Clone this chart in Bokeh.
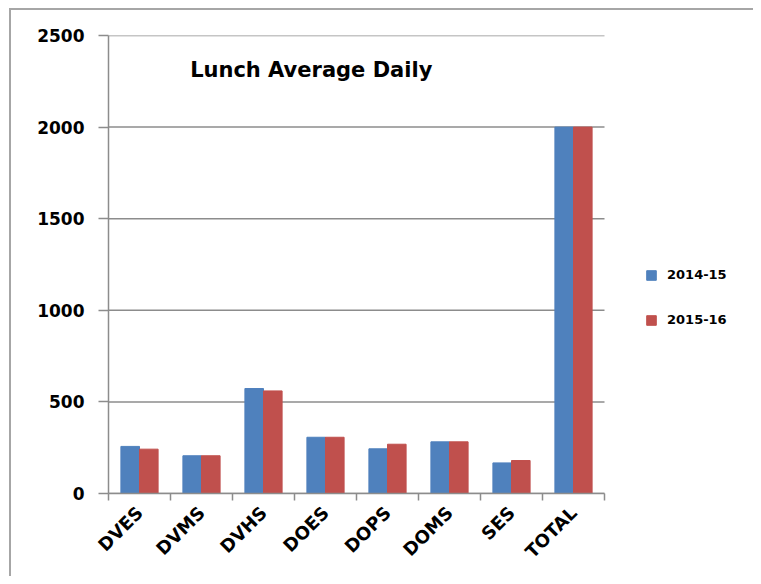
from math import pi
from bokeh.plotting import figure
from bokeh.models import (ColumnDataSource, Range1d, LinearAxis, FixedTicker, Label)
from bokeh.transform import dodge
from bokeh.embed import file_html
from bokeh.resources import INLINE

schools = ["DVES", "DVMS", "DVHS", "DOES", "DOPS", "DOMS", "SES", "TOTAL"]
lunch_2014_15 = [257, 206, 573, 307, 244, 282, 167, 2000]
lunch_2015_16 = [242, 206, 560, 307, 269, 282, 180, 2000]
series_names = ["2014-15", "2015-16"]
y_ticks = [0, 500, 1000, 1500, 2000, 2500]
title_text = "Lunch Average Daily"

BLUE = "#4F81BD"
RED = "#C0504D"
GRAY = "#8c8c8c"
FONT = "DejaVu Sans"

n = len(schools)
centers = [i + 0.5 for i in range(n)]
bounds = list(range(n + 1))
src = ColumnDataSource(dict(pos=centers, school=schools, a=lunch_2014_15, b=lunch_2015_16))
grid_src = ColumnDataSource(dict(y=y_ticks, x0=[0] * len(y_ticks), x1=[n] * len(y_ticks)))

# frame spans the whole right side so the legend (inside the frame) is not clipped;
# the category area occupies 0..n of the x range (62 px per category)
X_MAX = 645 / 62.0

p = figure(width=753, height=576, x_range=Range1d(0, X_MAX), y_range=Range1d(0, 2500),
           output_backend="svg", toolbar_location=None, x_axis_location=None,
           min_border_left=108, min_border_top=35, min_border_bottom=83, min_border_right=0)
p.border_fill_color = None
p.background_fill_color = None
p.outline_line_color = None
p.styles = {"box-shadow": "inset 9px 8px 0 0 white, inset 11px 10px 0 0 #a6a6a6"}

p.xgrid.grid_line_color = None
p.ygrid.grid_line_color = None
p.segment(x0="x0", x1="x1", y0="y", y1="y", source=grid_src, line_color=GRAY, line_width=1.5)

p.vbar(x=dodge("pos", -0.15), top="a", width=0.3, source=src,
       fill_color=BLUE, line_color=BLUE, legend_label=series_names[0])
p.vbar(x=dodge("pos", 0.15), top="b", width=0.3, source=src,
       fill_color=RED, line_color=RED, legend_label=series_names[1])

# y axis
ya = p.yaxis[0]
ya.ticker = FixedTicker(ticks=y_ticks)
ya.axis_line_color = GRAY
ya.axis_line_width = 1.5
ya.major_tick_line_color = GRAY
ya.major_tick_line_width = 1.5
ya.major_tick_out = 10
ya.major_tick_in = 0
ya.minor_tick_line_color = None
ya.major_label_text_font = FONT
ya.major_label_text_font_style = "bold"
ya.major_label_text_font_size = "17px"
ya.major_label_text_color = "black"
ya.major_label_standoff = 14

# x axis: labels at category centres, minor ticks at category boundaries
xa = LinearAxis(ticker=FixedTicker(ticks=centers, minor_ticks=bounds),
                major_label_overrides={c: s for c, s in zip(centers, schools)},
                bounds=(0, n))
xa.axis_line_color = GRAY
xa.axis_line_width = 1.5
xa.major_tick_line_color = None
xa.major_tick_out = 0
xa.major_tick_in = 0
xa.minor_tick_line_color = GRAY
xa.minor_tick_line_width = 1.5
xa.minor_tick_out = 7
xa.minor_tick_in = 0
xa.major_label_orientation = pi / 4
xa.major_label_text_font = FONT
xa.major_label_text_font_style = "bold"
xa.major_label_text_font_size = "18px"
xa.major_label_text_color = "black"
xa.major_label_standoff = 9
p.add_layout(xa, "below")

p.add_layout(Label(x=3.27, y=2310, text=title_text, text_align="center", text_baseline="middle",
                   text_font=FONT, text_font_style="bold", text_font_size="21px", text_color="black"))

lg = p.legend[0]
lg.location = (537, 166)
lg.border_line_color = None
lg.background_fill_color = None
lg.padding = 0
lg.margin = 0
lg.spacing = 30
lg.glyph_width = 12
lg.glyph_height = 12
lg.label_height = 12
lg.label_standoff = 10
lg.label_text_font = FONT
lg.label_text_font_style = "bold"
lg.label_text_font_size = "13px"
lg.label_text_color = "black"

open("out.html", "w").write(file_html(p, INLINE))
